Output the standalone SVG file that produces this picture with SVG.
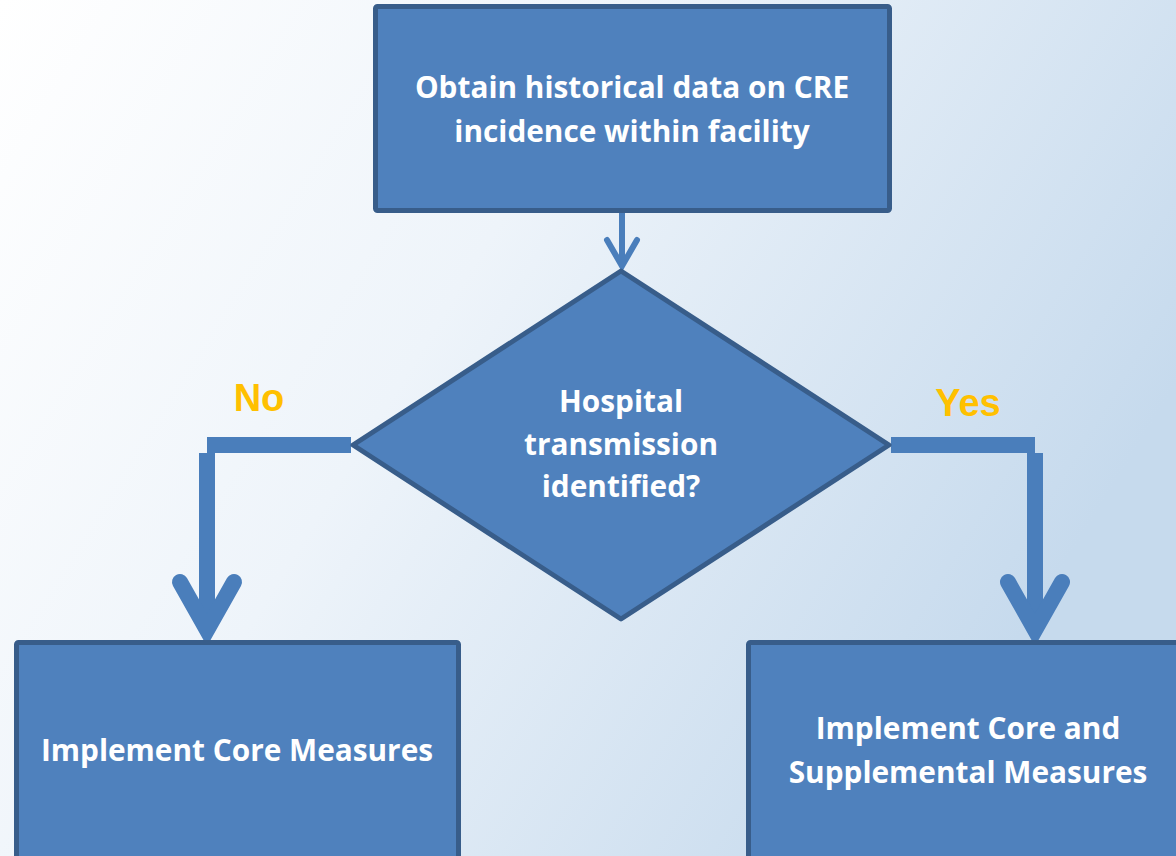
<svg xmlns="http://www.w3.org/2000/svg" width="1176" height="856" viewBox="0 0 1176 856">
  <defs>
    <linearGradient id="bg" x1="0" y1="0" x2="1" y2="0.45">
      <stop offset="0" stop-color="#ffffff"/>
      <stop offset="0.45" stop-color="#eef4fa"/>
      <stop offset="1" stop-color="#c6daed"/>
    </linearGradient>
    <style>
      .shape { fill: #4f81bd; stroke: #385d8a; stroke-width: 5; stroke-linejoin: round; }
      .label { font-family: "Open Sans", "Liberation Sans", sans-serif; font-weight: bold; font-size: 29.8px; fill: #ffffff; text-anchor: middle; }
      .branch { font-family: "Liberation Sans", Arial, sans-serif; font-weight: bold; font-size: 38px; fill: #ffc000; text-anchor: middle; }
      .wire { stroke: #4a7ebb; fill: none; stroke-linecap: butt; }
      .head { stroke: #4a7ebb; fill: none; stroke-linecap: round; stroke-linejoin: miter; }
    </style>
  </defs>

  <rect width="1176" height="856" fill="url(#bg)"/>

  <!-- connectors -->
  <g id="connectors">
    <line class="wire" x1="622" y1="212" x2="622" y2="266" stroke-width="6"/>
    <polyline class="head" points="607,240 622,266 637,240" stroke-width="6"/>

    <line class="wire" x1="207" y1="445" x2="351" y2="445" stroke-width="16"/>
    <line class="wire" x1="207" y1="453" x2="207" y2="630" stroke-width="16"/>
    <polyline class="head" points="180,582 207,630 234,582" stroke-width="16"/>

    <line class="wire" x1="891" y1="445" x2="1035" y2="445" stroke-width="16"/>
    <line class="wire" x1="1035" y1="453" x2="1035" y2="630" stroke-width="16"/>
    <polyline class="head" points="1008,582 1035,630 1062,582" stroke-width="16"/>

    <text class="branch" x="259" y="411">No</text>
    <text class="branch" x="968" y="416">Yes</text>
  </g>

  <g id="obtain-data">
    <rect class="shape" x="375.5" y="6.5" width="514" height="204" rx="2"/>
    <text class="label" x="632" y="98">Obtain historical data on CRE</text>
    <text class="label" x="632" y="142">incidence within facility</text>
  </g>

  <g id="transmission-check">
    <polygon class="shape" points="621,271 889,445 621,619 353,445"/>
    <text class="label" x="621" y="412">Hospital</text>
    <text class="label" x="621" y="455">transmission</text>
    <text class="label" x="621" y="497">identified?</text>
  </g>

  <g id="core-measures">
    <rect class="shape" x="16.5" y="642.5" width="442" height="240" rx="2"/>
    <text class="label" x="237" y="761">Implement Core Measures</text>
  </g>

  <g id="core-supplemental">
    <rect class="shape" x="748.5" y="642.5" width="450" height="240" rx="2"/>
    <text class="label" x="968" y="739">Implement Core and</text>
    <text class="label" x="968" y="783">Supplemental Measures</text>
  </g>
</svg>
